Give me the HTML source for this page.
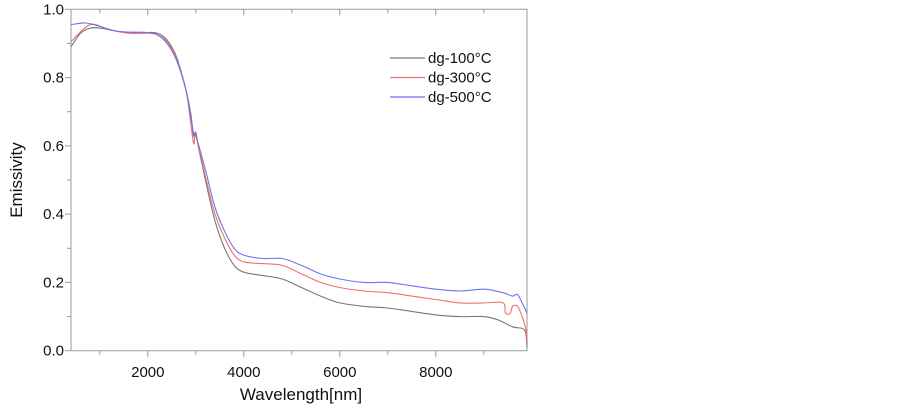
<!DOCTYPE html>
<html><head><meta charset="utf-8"><style>
body{margin:0;background:#fff;}
svg{display:block;font-family:"Liberation Sans",sans-serif;}
</style></head><body>
<svg id="chart" width="903" height="407"></svg>
<script>
const xTicks=[2000,4000,6000,8000];
const yTicks=[0,0.2,0.4,0.6,0.8,1.0];
const yTickLabels=["0.0","0.2","0.4","0.6","0.8","1.0"];
const seriesNames=["dg-100°C","dg-300°C","dg-500°C"];
const wl100=[400,600,800,1000,1400,1800,2000,2200,2400,2600,2800,2900,2950,3000,3050,3200,3400,3600,3800,4000,4400,4800,5200,5600,6000,6500,7000,7500,8000,8500,9000,9300,9600,9850,9900];
const em100=[0.89,0.93,0.945,0.945,0.935,0.93,0.932,0.93,0.91,0.86,0.76,0.69,0.63,0.64,0.6,0.5,0.38,0.3,0.25,0.23,0.22,0.21,0.185,0.16,0.14,0.13,0.125,0.115,0.105,0.1,0.1,0.09,0.07,0.06,0.01];
const wl300=[400,800,1200,1600,2000,2200,2400,2600,2800,2950,3000,3200,3400,3600,3800,4000,4400,4800,5200,5600,6000,6500,7000,7500,8000,8500,9000,9400,9450,9550,9600,9700,9800,9880,9900];
const em300=[0.905,0.955,0.94,0.93,0.93,0.925,0.905,0.855,0.76,0.61,0.63,0.51,0.4,0.33,0.28,0.26,0.255,0.25,0.225,0.2,0.185,0.175,0.17,0.16,0.15,0.14,0.14,0.14,0.11,0.11,0.13,0.13,0.1,0.06,0.03];
const wl500=[400,700,1000,1400,2000,2200,2400,2600,2800,2950,3000,3200,3400,3600,3800,4000,4400,4800,5200,5600,6000,6500,7000,7500,8000,8500,9000,9400,9600,9700,9800,9900];
const em500=[0.955,0.96,0.95,0.935,0.932,0.925,0.9,0.85,0.76,0.64,0.63,0.53,0.42,0.35,0.3,0.28,0.27,0.27,0.25,0.225,0.21,0.2,0.2,0.19,0.18,0.175,0.18,0.17,0.16,0.165,0.14,0.11];
const NS="http://www.w3.org/2000/svg";
const svg=document.getElementById('chart');
const L=71,R=527,T=9.3,B=350.7,X0=400,X1=9900;
const xs=v=>L+(v-X0)/(X1-X0)*(R-L);
const ys=v=>B-v*(B-T);
function mk(t,a){const e=document.createElementNS(NS,t);for(const k in a)e.setAttribute(k,a[k]);svg.appendChild(e);return e;}
function smooth(p){
  let d='M'+p[0][0].toFixed(1)+','+p[0][1].toFixed(1);
  for(let i=0;i<p.length-1;i++){
    const p0=p[Math.max(i-1,0)],p1=p[i],p2=p[i+1],p3=p[Math.min(i+2,p.length-1)];
    const c1x=p1[0]+(p2[0]-p0[0])/6,c1y=p1[1]+(p2[1]-p0[1])/6;
    const c2x=p2[0]-(p3[0]-p1[0])/6,c2y=p2[1]-(p3[1]-p1[1])/6;
    d+=`C${c1x.toFixed(1)},${c1y.toFixed(1)} ${c2x.toFixed(1)},${c2y.toFixed(1)} ${p2[0].toFixed(1)},${p2[1].toFixed(1)}`;
  }
  return d;
}
let e;
e=mk('path',{d:`M${L},${T}H${R}V${B}H${L}Z`,fill:'none',stroke:'#999','stroke-width':1});


for(let v=1000;v<=9000;v+=1000){
  e=mk('line',{x1:xs(v),x2:xs(v),y1:B,y2:B+(v%2000===0?6:4),stroke:'#999'});
  
  
  e=mk('line',{x1:xs(v),x2:xs(v),y1:T,y2:T+(v%2000===0?6:4),stroke:'#999'});
  
  
}
xTicks.forEach(v=>{
  e=mk('text',{x:xs(v),y:377,'text-anchor':'middle','font-size':15,fill:'#111'});e.textContent=v;
  
  
});
for(let v=0.1;v<1;v+=0.2){
  e=mk('line',{x1:L-4,x2:L,y1:ys(v),y2:ys(v),stroke:'#999'});
  
  
}
yTicks.forEach((v,i)=>{
  e=mk('line',{x1:L-6,x2:L,y1:ys(v),y2:ys(v),stroke:'#999'});
  
  
  e=mk('text',{x:L-7,y:ys(v)+5,'text-anchor':'end','font-size':15,fill:'#111'});e.textContent=yTickLabels[i];
  
  
});
e=mk('text',{x:301,y:400,'text-anchor':'middle','font-size':17,fill:'#111'});e.textContent='Wavelength[nm]';


e=mk('text',{x:22,y:180,'text-anchor':'middle','font-size':17,fill:'#111',transform:'rotate(-90 22 180)'});e.textContent='Emissivity';


const colors=['#777777','#f07070','#7070f0'];
[[wl100,em100],[wl300,em300],[wl500,em500]].forEach((s,i)=>{
  const pts=s[0].map((w,j)=>[xs(w),ys(s[1][j])]);
  e=mk('path',{d:smooth(pts),fill:'none',stroke:colors[i],'stroke-width':1.1});
  
  
  const ly=58+i*19.5;
  e=mk('line',{x1:390,x2:425,y1:ly,y2:ly,stroke:colors[i],'stroke-width':1.2});
  
  
  e=mk('text',{x:428,y:ly+5,'font-size':15,fill:'#111'});e.textContent=seriesNames[i];
  
  
});
</script>
</body></html>
